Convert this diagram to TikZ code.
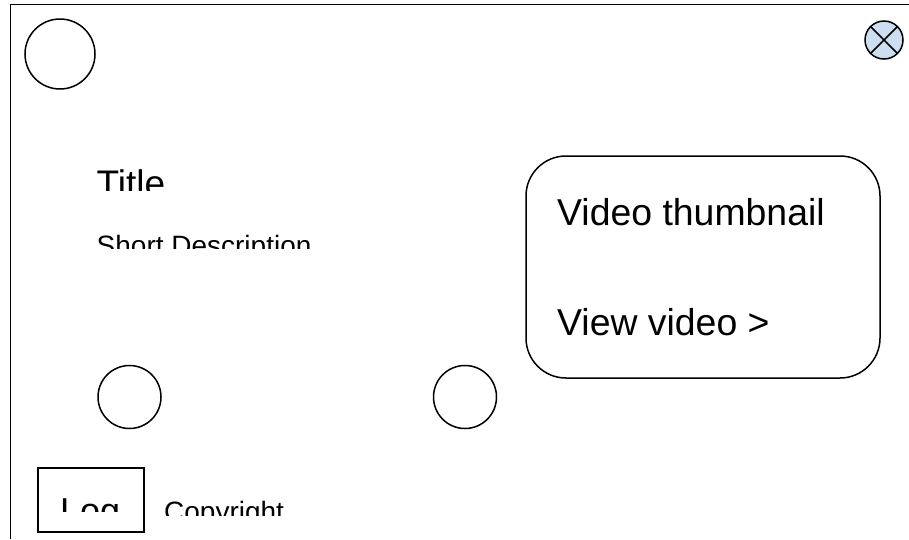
\documentclass[tikz,border=0pt]{standalone}
\usepackage{fontspec}
\setmainfont{Liberation Sans}
\definecolor{closeblue}{RGB}{204,222,240}
\tikzset{
  ring/.style={draw,circle,line width=1.5pt,inner sep=0pt,outer sep=0pt},
  label/.style={inner sep=0pt,anchor=base west,font=\fontsize{#1}{#1}\selectfont},
}
\begin{document}
\begin{tikzpicture}[x=1pt,y=-1pt]
    \useasboundingbox (0,0) rectangle (909,539);
    \path
    (10.5,539) coordinate (frameBL)
    (10.5,4.5) coordinate (frameTL)
    (909,4.5) coordinate (frameTR)
    ;
    \draw[line width=1.8pt] (frameBL)--(frameTL)--(frameTR);
    \node[ring,minimum size=70pt] (logo) at (60,54) {};
    \node[ring,minimum size=38pt,fill=closeblue] (close) at (884,40) {};
    \draw[line width=1.5pt] (close.north west)--(close.south east) (close.north east)--(close.south west);
    \node[ring,minimum size=63pt] (btnA) at (129.5,397) {};
    \node[ring,minimum size=63pt] (btnB) at (465,397) {};
    \draw[line width=1.5pt,rounded corners=40pt] (526,156) rectangle (880,378);
    \draw[line width=1.5pt] (38,468) rectangle (144,532);
    \node[label=37.4] (video) at (557,225) {Video thumbnail};
    \node[label=37.4] (view) at (557,335) {View video >};
    % clipped texts
    \foreach \n/\t/\x/\y/\s/\c in {title/Title/96.5/196/37/190.5,desc/Short Description/96.5/255/28/248.5,log/Log/60/523/36/511,copy/Copyright/164/521/28/515}{
        \begin{scope}
            \clip (0,0) rectangle (909,\c);
            \node[label=\s] (\n) at (\x,\y) {\t};
        \end{scope}
    }
\end{tikzpicture}
\end{document}
